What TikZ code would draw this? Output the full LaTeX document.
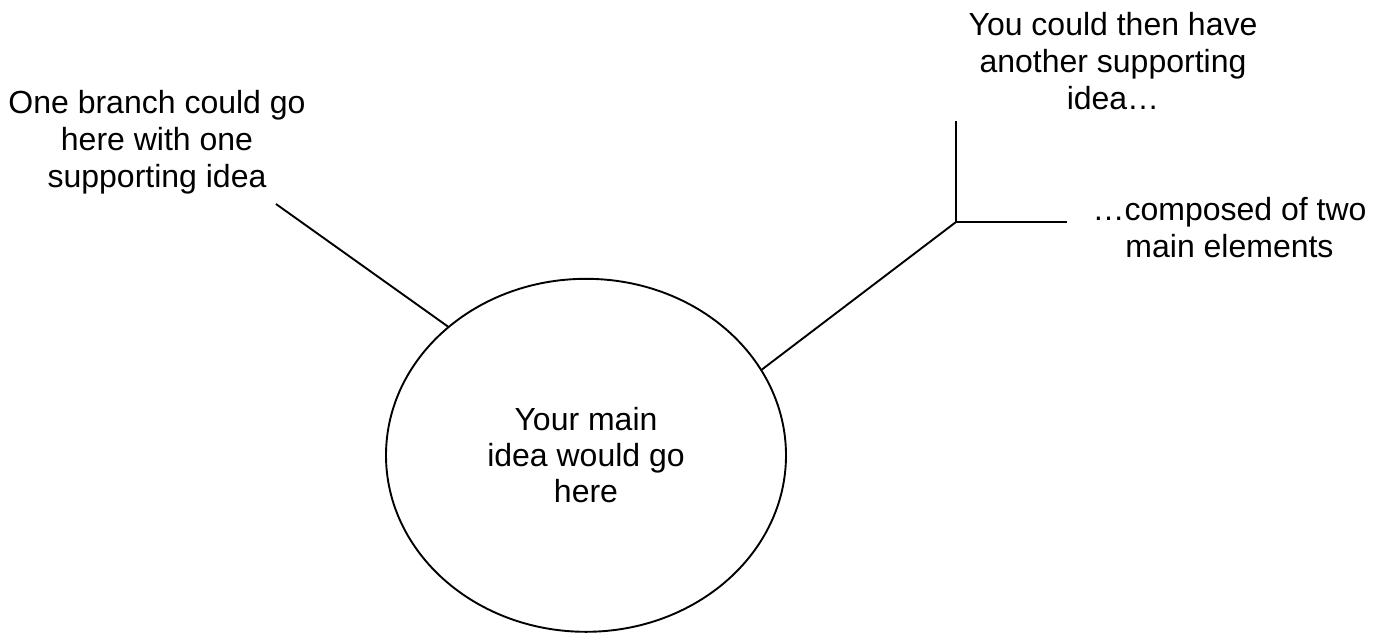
\documentclass[tikz,border=0pt]{standalone}
\usepackage{fontspec}
\setmainfont{Liberation Sans}
\usetikzlibrary{shapes.geometric}
\tikzset{
  txt/.style={align=center, anchor=base, inner sep=0pt, font=\fontsize{32}{37}\selectfont},
  branch/.style={draw=black, line width=1.9pt},
  bubble/.style={ellipse, draw=black, line width=1.9pt, minimum width=400pt, minimum height=353pt, inner sep=0pt, align=center, font=\fontsize{32}{36}\selectfont}
}
\begin{document}
\begin{tikzpicture}[x=1pt, y=-1pt]
\path[use as bounding box] (0,0) rectangle (1384,633);
\node[bubble] (main) at (586,455.3) {Your main\\idea would go\\here};
\node[txt] (left) at (157,187) {One branch could go\\here with one\\supporting idea};
\node[txt] (topright) at (1113,109.5) {You could then have\\another supporting\\idea…};
\node[txt] (right) at (1229.5,257) {…composed of two\\main elements};
\coordinate (l1) at (276,204);
\coordinate (j) at (956,222);
\coordinate (jt) at (956,121);
\coordinate (jr) at (1067,222);
\draw[branch] (l1) -- (main.137.7);
\draw[branch] (main.26.3) -- (j);
\draw[branch] (jt) -- (j) -- (jr);
\end{tikzpicture}
\end{document}
